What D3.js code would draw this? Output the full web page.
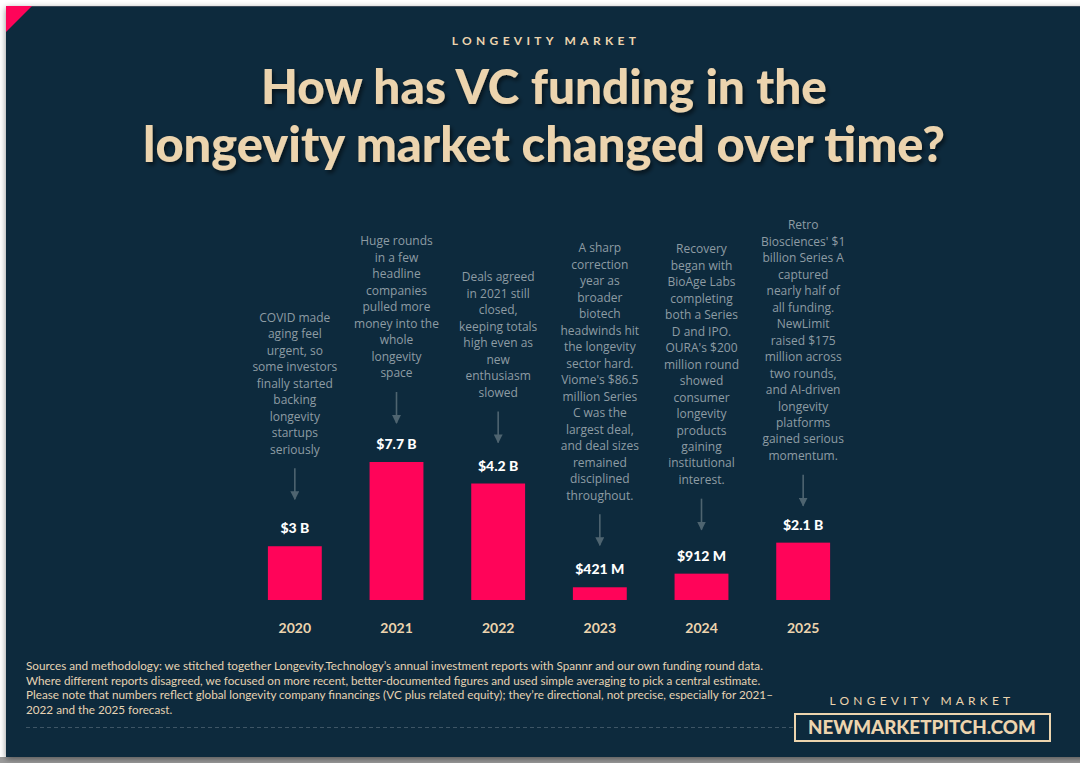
<!DOCTYPE html>
<html>
<head>
<meta charset="utf-8">
<script src="https://cdn.jsdelivr.net/npm/d3@7/dist/d3.min.js"></script>
<style>
html,body{margin:0;padding:0;background:#ffffff;}
svg{display:block;}
</style>
</head>
<body>
<svg id="chart" width="1080" height="763"></svg>
<script>
// ---- data ----
const years = ["2020","2021","2022","2023","2024","2025"];
const barValues = [3.0, 7.7, 6.5, 0.71, 1.47, 3.2];   // bar heights as drawn ($B)
const valueLabels = ["$3 B","$7.7 B","$4.2 B","$421 M","$912 M","$2.1 B"];
const notes = [
  ["COVID made","aging feel","urgent, so","some investors","finally started","backing","longevity","startups","seriously"],
  ["Huge rounds","in a few","headline","companies","pulled more","money into the","whole","longevity","space"],
  ["Deals agreed","in 2021 still","closed,","keeping totals","high even as","new","enthusiasm","slowed"],
  ["A sharp","correction","year as","broader","biotech","headwinds hit","the longevity","sector hard.","Viome's $86.5","million Series","C was the","largest deal,","and deal sizes","remained","disciplined","throughout."],
  ["Recovery","began with","BioAge Labs","completing","both a Series","D and IPO.","OURA's $200","million round","showed","consumer","longevity","products","gaining","institutional","interest."],
  ["Retro","Biosciences' $1","billion Series A","captured","nearly half of","all funding.","NewLimit","raised $175","million across","two rounds,","and AI-driven","longevity","platforms","gained serious","momentum."]
];
const kicker = "LONGEVITY MARKET";
const titleLines = ["How has VC funding in the","longevity market changed over time?"];
const footnote = [
  "Sources and methodology: we stitched together Longevity.Technology\u2019s annual investment reports with Spannr and our own funding round data.",
  "Where different reports disagreed, we focused on more recent, better-documented figures and used simple averaging to pick a central estimate.",
  "Please note that numbers reflect global longevity company financings (VC plus related equity); they\u2019re directional, not precise, especially for 2021\u2013",
  "2022 and the 2025 forecast."
];
const brandSmall = "LONGEVITY MARKET";
const brandBig = "NEWMARKETPITCH.COM";

// ---- layout (pixel gap between arrow tip and bar top, per column) ----
const arrowGap = [47, 39, 41, 42, 44, 37];

// ---- style ----
const BG = "#0a293c", PINK = "#ff0459", BEIGE = "#ecd4ae", NOTE = "#8e9ca4", ARROW = "#4e6470";
const FONT = "Lato, 'Open Sans', sans-serif";
const NFONT = "'Open Sans', Lato, sans-serif";

const svg = d3.select("#chart");
const defs = svg.append("defs");
const cardShadow = defs.append("filter").attr("id","cardShadow").attr("x","-5%").attr("y","-5%").attr("width","110%").attr("height","110%");
cardShadow.append("feDropShadow").attr("dx",0).attr("dy",2).attr("stdDeviation",3).attr("flood-color","#000").attr("flood-opacity",0.45);
const txtShadow = defs.append("filter").attr("id","txtShadow").attr("x","-5%").attr("y","-20%").attr("width","110%").attr("height","140%");
txtShadow.append("feDropShadow").attr("dx",2).attr("dy",3).attr("stdDeviation",2).attr("flood-color","#000").attr("flood-opacity",0.55);
const marker = defs.append("marker").attr("id","arrowHead").attr("viewBox","0 0 10 10")
  .attr("refX",9).attr("refY",5).attr("markerWidth",9).attr("markerHeight",9)
  .attr("markerUnits","userSpaceOnUse").attr("orient","auto");
marker.append("path").attr("d","M0,0 L10,5 L0,10 Z").attr("fill",ARROW);

// card
svg.append("rect").attr("x",0).attr("y",757).attr("width",1080).attr("height",6).attr("fill","#9a9a9a");
svg.append("rect").attr("x",6).attr("y",6).attr("width",1090).attr("height",751)
  .attr("fill",BG).attr("filter","url(#cardShadow)");
svg.append("line").attr("x1",6).attr("x2",1080).attr("y1",6.5).attr("y2",6.5).attr("stroke","#3c4a5a").attr("stroke-width",1);
svg.append("path").attr("d","M6,6 L32,6 L6,32 Z").attr("fill",PINK);

// kicker & title
svg.append("text").attr("x",546).attr("y",45).attr("text-anchor","middle")
  .attr("font-family",FONT).attr("font-size",12).attr("font-weight",700)
  .attr("letter-spacing",4.3).attr("fill",BEIGE).text(kicker);

const titleG = svg.append("g").attr("filter","url(#txtShadow)");
const titleY = [104, 162];
const titleW = [566, 802];
titleLines.forEach((t,i)=>{
  const el = titleG.append("text").attr("x",544).attr("y",titleY[i]).attr("text-anchor","middle")
    .attr("font-family",FONT).attr("font-weight",900).attr("font-size",40).attr("fill",BEIGE).text(t);
  const w = el.node().getComputedTextLength();
  el.attr("font-size", 40*titleW[i]/w);
});

// scales
const x = d3.scaleBand().domain(years).range([244, 854]).paddingInner(0.47).paddingOuter(0.235);
const y = d3.scaleLinear().domain([0, 7.7]).range([600, 462]);

const g = svg.append("g");
const data = years.map((yr,i)=>({yr, v:barValues[i], label:valueLabels[i], note:notes[i], gap:arrowGap[i]}));

g.selectAll("rect.bar").data(data).join("rect").attr("class","bar")
  .attr("x",d=>x(d.yr)).attr("width",x.bandwidth())
  .attr("y",d=>y(d.v)).attr("height",d=>y(0)-y(d.v)).attr("fill",PINK);

// x axis labels
const xAxis = d3.axisBottom(x).tickSize(0).tickPadding(0);
const ax = g.append("g").attr("transform","translate(0,623)").call(xAxis);
ax.select(".domain").remove();
ax.selectAll("text").attr("font-family",FONT).attr("font-size",14).attr("font-weight",700)
  .attr("fill",BEIGE).attr("dy","0.71em");

// value labels
g.selectAll("text.val").data(data).join("text").attr("class","val")
  .attr("x",d=>x(d.yr)+x.bandwidth()/2).attr("y",d=>y(d.v)-13)
  .attr("text-anchor","middle").attr("font-family",FONT).attr("font-weight",900)
  .attr("font-size",14).attr("fill","#ffffff").text(d=>d.label);

// arrows
g.selectAll("line.arrow").data(data).join("line").attr("class","arrow")
  .attr("x1",d=>x(d.yr)+x.bandwidth()/2).attr("x2",d=>x(d.yr)+x.bandwidth()/2)
  .attr("y1",d=>y(d.v)-d.gap-31).attr("y2",d=>y(d.v)-d.gap)
  .attr("stroke",ARROW).attr("stroke-width",1.6).attr("marker-end","url(#arrowHead)");

// notes
const LH = 16.48;
g.selectAll("text.note").data(data).join("text").attr("class","note")
  .attr("text-anchor","middle").attr("font-family",NFONT).attr("font-size",12)
  .attr("fill",NOTE)
  .each(function(d){
    const cx = x(d.yr)+x.bandwidth()/2;
    const lastY = y(d.v) - d.gap - 31 - 19 + 4.3;
    const firstY = lastY - (d.note.length-1)*LH;
    d3.select(this).selectAll("tspan").data(d.note).join("tspan")
      .attr("x",cx).attr("y",(t,i)=>firstY+i*LH).text(t=>t);
  });

// footnote
const fn = svg.append("text").attr("font-family",FONT).attr("font-size",11).attr("fill","#e6d3b3");
fn.selectAll("tspan").data(footnote).join("tspan")
  .attr("x",26).attr("y",(t,i)=>670+i*14.5).text(t=>t);
const fw = fn.select("tspan").node().getComputedTextLength();
fn.attr("font-size", 11*738/fw);

svg.append("line").attr("x1",26).attr("x2",794).attr("y1",727.5).attr("y2",727.5)
  .attr("stroke","#3e5565").attr("stroke-width",1).attr("stroke-dasharray","4,3");

// brand
svg.append("text").attr("x",922).attr("y",705).attr("text-anchor","middle")
  .attr("font-family",FONT).attr("font-size",12).attr("font-weight",400)
  .attr("letter-spacing",4.2).attr("fill",BEIGE).text(brandSmall);
svg.append("rect").attr("x",795).attr("y",714).attr("width",255).attr("height",27)
  .attr("fill","none").attr("stroke",BEIGE).attr("stroke-width",2);
const bb = svg.append("text").attr("x",922).attr("y",734).attr("text-anchor","middle")
  .attr("font-family",FONT).attr("font-size",17).attr("font-weight",900)
  .attr("fill",BEIGE).text(brandBig);
const bw = bb.node().getComputedTextLength();
bb.attr("font-size", 17*228/bw);
</script>
</body>
</html>
